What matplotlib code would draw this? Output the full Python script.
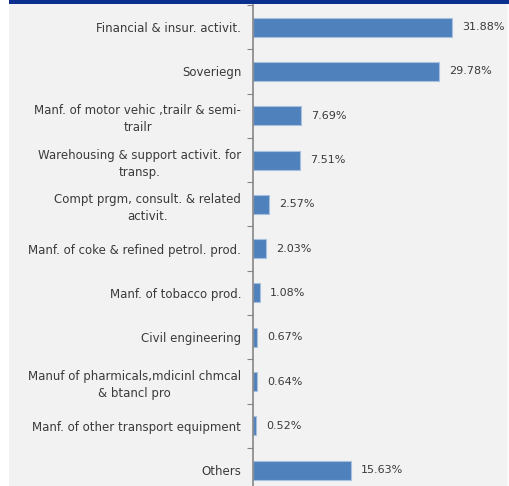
import matplotlib.pyplot as plt
from matplotlib.patches import Rectangle

# sector shares of exposure, top to bottom
sectors = [
    "Financial & insur. activit.",
    "Soveriegn",
    "Manf. of motor vehic ,trailr & semi-\ntrailr",
    "Warehousing & support activit. for\ntransp.",
    "Compt prgm, consult. & related\nactivit.",
    "Manf. of coke & refined petrol. prod.",
    "Manf. of tobacco prod.",
    "Civil engineering",
    "Manuf of pharmicals,mdicinl chmcal\n& btancl pro",
    "Manf. of other transport equipment",
    "Others",
]
shares = [31.88, 29.78, 7.69, 7.51, 2.57, 2.03, 1.08, 0.67, 0.64, 0.52, 15.63]

W, H = 509, 486
fig = plt.figure(figsize=(W / 100, H / 100), dpi=100)
fig.patch.set_facecolor("#f2f2f2")

# white margins at the sides and the header band on top
fig.add_artist(Rectangle((0, 0), 9 / W, 1, transform=fig.transFigure,
                         facecolor="white", edgecolor="none"))
fig.add_artist(Rectangle((1 - 2 / W, 0), 2 / W, 1, transform=fig.transFigure,
                         facecolor="#fafafa", edgecolor="none"))
fig.add_artist(Rectangle((9 / W, 1 - 4 / H), 1, 4 / H, transform=fig.transFigure,
                         facecolor="#0b2f8f", edgecolor="none"))

# axes: left edge on the category axis, 44.3 px per row, first row starts 5 px down
row = 44.3
n = len(sectors)
top = H - 5
height = row * n
ax = fig.add_axes([253 / W, (top - height) / H, 250 / W, height / H])
ax.set_facecolor("none")

ypos = list(range(n))
ax.barh(ypos, shares, height=0.43, color="#4f81bd", edgecolor="#a7c0e0", linewidth=0.8)
ax.set_xlim(0, 40)
ax.set_ylim(n - 0.5, -0.5)

for y, v in zip(ypos, shares):
    ax.text(v + 1.6, y, f"{v:.2f}%", va="center", ha="left", fontsize=8, color="#3a3a3a")

ax.set_yticks(ypos)
ax.set_yticklabels(sectors, fontsize=8.5, color="#3a3a3a",
                   multialignment="center", linespacing=1.4)
ax.tick_params(axis="y", which="major", length=0, pad=8.5)
ax.set_yticks([i - 0.5 for i in range(n + 1)], minor=True)
ax.tick_params(axis="y", which="minor", length=4, width=0.8, color="#868686")
ax.set_xticks([])

for side in ["top", "right", "bottom"]:
    ax.spines[side].set_visible(False)
ax.spines["left"].set_color("#868686")
ax.spines["left"].set_linewidth(1.2)

fig.savefig("out.png", dpi=100, facecolor=fig.get_facecolor())
